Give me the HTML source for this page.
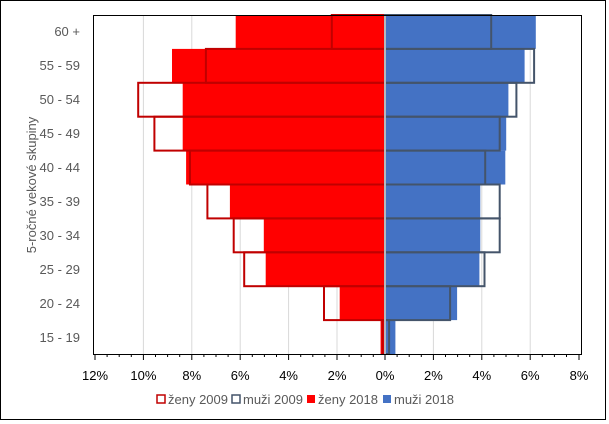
<!DOCTYPE html>
<html><head><meta charset="utf-8"><style>
html,body{margin:0;padding:0;background:#fff}
svg{display:block;font-family:"Liberation Sans",sans-serif}
</style></head><body>
<svg width="609" height="424" viewBox="0 0 609 424" xmlns="http://www.w3.org/2000/svg">
<rect x="0.5" y="0.5" width="605" height="419" fill="#fff" stroke="#000" stroke-width="1"/>
<g stroke="#d9d9d9" stroke-width="1">
<line x1="143.4" y1="15" x2="143.4" y2="354"/><line x1="191.8" y1="15" x2="191.8" y2="354"/>
<line x1="240.2" y1="15" x2="240.2" y2="354"/><line x1="288.6" y1="15" x2="288.6" y2="354"/>
<line x1="337" y1="15" x2="337" y2="354"/><line x1="433.4" y1="15" x2="433.4" y2="354"/>
<line x1="481.8" y1="15" x2="481.8" y2="354"/><line x1="530.2" y1="15" x2="530.2" y2="354"/>
</g>
<g fill="#ff0000">
<rect x="235.7" y="15" width="149.3" height="33.9"/>
<rect x="172" y="48.9" width="213" height="33.9"/>
<rect x="182.7" y="82.8" width="202.3" height="33.9"/>
<rect x="182.7" y="116.7" width="202.3" height="33.9"/>
<rect x="186.1" y="150.6" width="198.9" height="33.9"/>
<rect x="229.9" y="184.5" width="155.1" height="33.9"/>
<rect x="263.8" y="218.4" width="121.2" height="33.9"/>
<rect x="265.7" y="252.3" width="119.3" height="33.9"/>
<rect x="339.7" y="286.2" width="45.3" height="33.9"/>
<rect x="380.6" y="320.1" width="4.4" height="33.9"/>
</g>
<g fill="#4472c4">
<rect x="385" y="15" width="150.8" height="33.9"/>
<rect x="385" y="48.9" width="139.6" height="33.9"/>
<rect x="385" y="82.8" width="123.4" height="33.9"/>
<rect x="385" y="116.7" width="121.2" height="33.9"/>
<rect x="385" y="150.6" width="120.3" height="33.9"/>
<rect x="385" y="184.5" width="95.3" height="33.9"/>
<rect x="385" y="218.4" width="95.3" height="33.9"/>
<rect x="385" y="252.3" width="94.4" height="33.9"/>
<rect x="385" y="286.2" width="72.1" height="33.9"/>
<rect x="385" y="320.1" width="10.4" height="33.9"/>
</g>
<g fill="none" stroke="#c00000" stroke-width="2">
<rect x="331.8" y="15" width="53.2" height="33.9"/>
<rect x="205.9" y="48.9" width="179.1" height="33.9"/>
<rect x="138.2" y="82.8" width="246.8" height="33.9"/>
<rect x="154.4" y="116.7" width="230.6" height="33.9"/>
<rect x="190" y="150.6" width="195" height="33.9"/>
<rect x="207.4" y="184.5" width="177.6" height="33.9"/>
<rect x="233.7" y="218.4" width="151.3" height="33.9"/>
<rect x="244.2" y="252.3" width="140.8" height="33.9"/>
<rect x="324" y="286.2" width="61" height="33.9"/>
<rect x="382.6" y="320.1" width="2.4" height="33.9"/>
</g>
<g fill="none" stroke="#44546a" stroke-width="2">
<rect x="385" y="15" width="106.2" height="33.9"/>
<rect x="385" y="48.9" width="149.1" height="33.9"/>
<rect x="385" y="82.8" width="131.4" height="33.9"/>
<rect x="385" y="116.7" width="114.7" height="33.9"/>
<rect x="385" y="150.6" width="100.2" height="33.9"/>
<rect x="385" y="184.5" width="114.7" height="33.9"/>
<rect x="385" y="218.4" width="114.7" height="33.9"/>
<rect x="385" y="252.3" width="99.5" height="33.9"/>
<rect x="385" y="286.2" width="65.1" height="33.9"/>
<rect x="385" y="320.1" width="4.1" height="33.9"/>
</g>
<line x1="385" y1="15" x2="385" y2="354" stroke="#d9d9d9" stroke-width="1.5"/>
<rect x="93.5" y="15.5" width="488" height="339" fill="none" stroke="#000" stroke-width="1"/>
<g stroke="#000" stroke-width="1">
<line x1="95" y1="354" x2="95" y2="360"/><line x1="143.4" y1="354" x2="143.4" y2="360"/>
<line x1="191.8" y1="354" x2="191.8" y2="360"/><line x1="240.2" y1="354" x2="240.2" y2="360"/>
<line x1="288.6" y1="354" x2="288.6" y2="360"/><line x1="337" y1="354" x2="337" y2="360"/>
<line x1="385" y1="354" x2="385" y2="360"/><line x1="433.4" y1="354" x2="433.4" y2="360"/>
<line x1="481.8" y1="354" x2="481.8" y2="360"/><line x1="530.2" y1="354" x2="530.2" y2="360"/>
<line x1="579" y1="354" x2="579" y2="360"/>
</g>
<g stroke="#000" stroke-width="1">
<line x1="107.1" y1="354" x2="107.1" y2="357"/><line x1="119.2" y1="354" x2="119.2" y2="357"/><line x1="131.3" y1="354" x2="131.3" y2="357"/>
<line x1="155.5" y1="354" x2="155.5" y2="357"/><line x1="167.6" y1="354" x2="167.6" y2="357"/><line x1="179.7" y1="354" x2="179.7" y2="357"/>
<line x1="203.9" y1="354" x2="203.9" y2="357"/><line x1="216" y1="354" x2="216" y2="357"/><line x1="228.1" y1="354" x2="228.1" y2="357"/>
<line x1="252.3" y1="354" x2="252.3" y2="357"/><line x1="264.4" y1="354" x2="264.4" y2="357"/><line x1="276.5" y1="354" x2="276.5" y2="357"/>
<line x1="300.7" y1="354" x2="300.7" y2="357"/><line x1="312.8" y1="354" x2="312.8" y2="357"/><line x1="324.9" y1="354" x2="324.9" y2="357"/>
<line x1="349.1" y1="354" x2="349.1" y2="357"/><line x1="361.2" y1="354" x2="361.2" y2="357"/><line x1="373.3" y1="354" x2="373.3" y2="357"/>
<line x1="397.1" y1="354" x2="397.1" y2="357"/><line x1="409.2" y1="354" x2="409.2" y2="357"/><line x1="421.3" y1="354" x2="421.3" y2="357"/>
<line x1="445.5" y1="354" x2="445.5" y2="357"/><line x1="457.6" y1="354" x2="457.6" y2="357"/><line x1="469.7" y1="354" x2="469.7" y2="357"/>
<line x1="493.9" y1="354" x2="493.9" y2="357"/><line x1="506" y1="354" x2="506" y2="357"/><line x1="518.1" y1="354" x2="518.1" y2="357"/>
<line x1="542.3" y1="354" x2="542.3" y2="357"/><line x1="554.4" y1="354" x2="554.4" y2="357"/><line x1="566.5" y1="354" x2="566.5" y2="357"/>
</g>
<g font-size="13" fill="#000" text-anchor="middle">
<text x="95" y="380">12%</text><text x="143.4" y="380">10%</text><text x="191.8" y="380">8%</text>
<text x="240.2" y="380">6%</text><text x="288.6" y="380">4%</text><text x="337" y="380">2%</text>
<text x="385" y="380">0%</text><text x="433.4" y="380">2%</text><text x="481.8" y="380">4%</text>
<text x="530.2" y="380">6%</text><text x="579" y="380">8%</text>
</g>
<g font-size="13" fill="#595959" text-anchor="end">
<text x="80" y="36">60 +</text><text x="80" y="70">55 - 59</text><text x="80" y="104">50 - 54</text>
<text x="80" y="138">45 - 49</text><text x="80" y="172">40 - 44</text><text x="80" y="206">35 - 39</text>
<text x="80" y="240">30 - 34</text><text x="80" y="274">25 - 29</text><text x="80" y="308">20 - 24</text>
<text x="80" y="342">15 - 19</text>
</g>
<text transform="translate(36,185) rotate(-90)" font-size="13" fill="#595959" text-anchor="middle">5-ročné vekové skupiny</text>
<g font-size="13" fill="#595959">
<rect x="157" y="395" width="8" height="8" fill="#fff" stroke="#c00000" stroke-width="1.5"/>
<text x="168" y="404">ženy 2009</text>
<rect x="232" y="395" width="8" height="8" fill="#fff" stroke="#44546a" stroke-width="1.5"/>
<text x="243" y="404">muži 2009</text>
<rect x="307" y="395" width="8" height="8" fill="#ff0000"/>
<text x="318" y="404">ženy 2018</text>
<rect x="383" y="395" width="8" height="8" fill="#4472c4"/>
<text x="394" y="404">muži 2018</text>
</g>
</svg>
</body></html>
